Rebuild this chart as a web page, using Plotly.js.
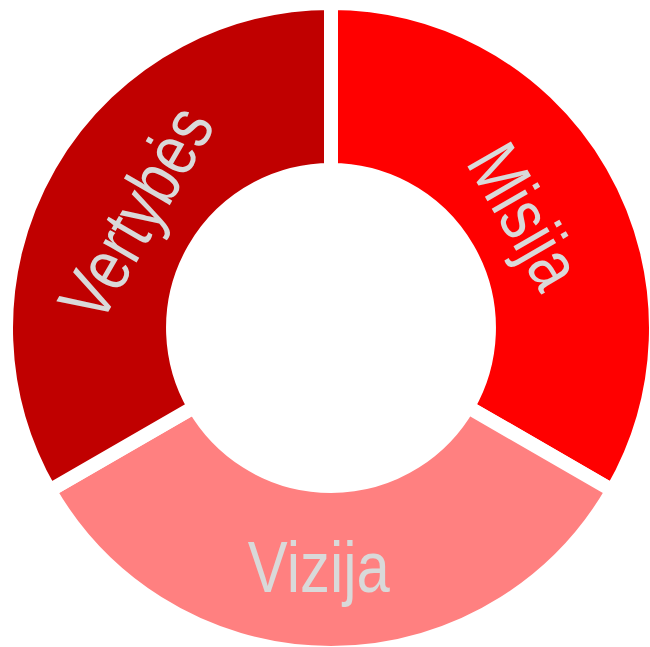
<!DOCTYPE html>
<html>
<head>
<meta charset="utf-8">
<script src="https://cdn.plot.ly/plotly-3.0.1.min.js"></script>
<style>
  html, body { margin: 0; padding: 0; width: 650px; height: 647px; overflow: hidden; background: #ffffff; }
  #chart { position: absolute; left: 6px; top: 3px; width: 650px; height: 650px; }
</style>
</head>
<body>
<div id="chart"></div>
<script>
const labels = ["Misija", "Vizija", "Vertybės"];
const values = [1, 1, 1];
const colors = ["#FF0000", "#FF8080", "#C00000"];

const trace = {
  type: "pie",
  labels: labels,
  values: values,
  sort: false,
  direction: "clockwise",
  rotation: 0,
  hole: 0.486,
  marker: { colors: colors, line: { color: "#FFFFFF", width: 14 } },
  textinfo: "label",
  textposition: "inside",
  insidetextorientation: "tangential",
  textfont: { family: "'Liberation Sans', Arial, sans-serif", size: 73, color: "#D9D9D9" },
  hoverinfo: "none",
  showlegend: false
};

const layout = {
  width: 650,
  height: 650,
  margin: { l: 0, r: 0, t: 0, b: 0, pad: 0 },
  paper_bgcolor: "#FFFFFF",
  plot_bgcolor: "#FFFFFF",
  showlegend: false
};

// small label nudges in the text's own (rotated) frame, px
const labelNudge = { "Vizija": [-12, 13], "Vertybės": [2, -12], "Misija": [0, 0] };

Plotly.newPlot("chart", [trace], layout, { displayModeBar: false, staticPlot: true }).then(function () {
  // narrow the glyphs (Arial Narrow look) along the text baseline
  document.querySelectorAll("#chart .slicetext text").forEach(function (t) {
    const tr = t.getAttribute("transform") || "";
    const n = labelNudge[t.textContent] || [0, 0];
    t.setAttribute("transform", tr + " translate(" + n[0] + "," + n[1] + ") scale(0.82,1)");
  });
});
</script>
</body>
</html>
